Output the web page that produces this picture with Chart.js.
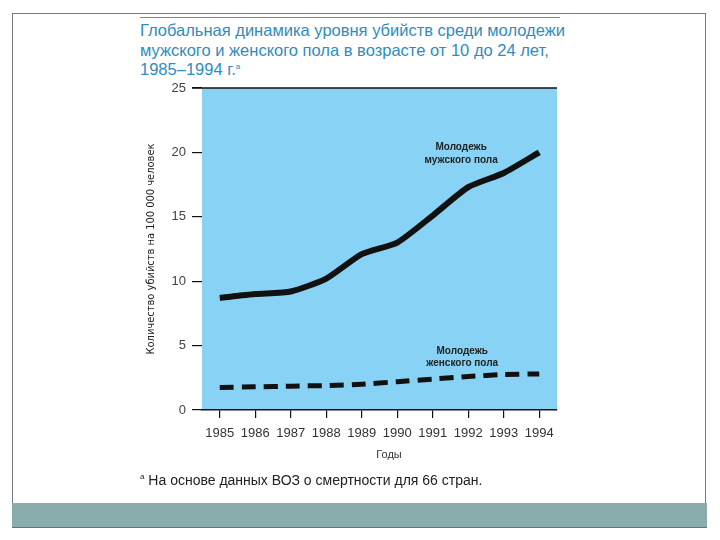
<!DOCTYPE html>
<html>
<head>
<meta charset="utf-8">
<script src="https://cdn.jsdelivr.net/npm/chart.js@4.4.0/dist/chart.umd.min.js"></script>
<style>
    html, body { margin: 0; padding: 0; background: #fff; }
    #page { position: relative; width: 720px; height: 540px; overflow: hidden; font-family: "Liberation Sans", Arial, sans-serif; }
    #frame { position: absolute; left: 12px; top: 13px; width: 694px; height: 514px; border: 1.5px solid #7a7a7a; box-sizing: border-box; }
    #band { position: absolute; left: 12px; top: 503px; width: 695px; height: 25px; background: #8aacac; border-bottom: 1.5px solid #6f6f6f; box-sizing: border-box; }
    #rule { position: absolute; left: 140px; top: 17px; width: 420px; height: 1px; background: #6a8fa3; }
    #title { position: absolute; left: 140px; top: 21px; width: 440px; color: #2f8cc0; font-size: 16.5px; line-height: 19.5px; }
    #title sup, #note sup { font-size: 8px; line-height: 0; vertical-align: 6px; }
    #note { position: absolute; left: 140px; top: 472px; color: #222; font-size: 14px; }
    #wrap { position: absolute; left: 0; top: 0; width: 720px; height: 540px; }
</style>
</head>
<body>
<div id="page">
    <div id="frame"></div>
    <div id="band"></div>
    <div id="rule"></div>
    <div id="title">Глобальная динамика уровня убийств среди молодежи<br>мужского и женского пола в возрасте от 10 до 24 лет,<br>1985–1994 г.<sup>a</sup></div>
    <div id="wrap"><canvas id="chart" width="720" height="540"></canvas></div>
    <div id="note"><sup>a</sup> На основе данных ВОЗ о смертности для 66 стран.</div>
</div>
<script>
// данные
const years = ['1985', '1986', '1987', '1988', '1989', '1990', '1991', '1992', '1993', '1994'];
const maleRates = [8.7, 9.0, 9.2, 10.2, 12.1, 13.0, 15.1, 17.3, 18.4, 20.0];
const femaleRates = [1.75, 1.8, 1.85, 1.9, 2.0, 2.2, 2.4, 2.6, 2.75, 2.8];
const yTicks = [0, 5, 10, 15, 20, 25];

const maleLabel = ['Молодежь', 'мужского пола'];
const femaleLabel = ['Молодежь', 'женского пола'];

// фон области графика, верхняя линия, подписи
const extras = {
    id: 'extras',
    beforeDraw(chart) {
        const { ctx, chartArea: a } = chart;
        ctx.save();
        ctx.fillStyle = '#88d3f5';
        ctx.fillRect(a.left, a.top, a.right - a.left, a.bottom - a.top);
        ctx.strokeStyle = '#111';
        ctx.lineWidth = 1.5;
        ctx.beginPath();
        ctx.moveTo(a.left - 10, a.top);
        ctx.lineTo(a.right, a.top);
        ctx.stroke();
        ctx.restore();
    },
    afterDraw(chart) {
        const { ctx, scales } = chart;
        const x = scales.x, y = scales.y;
        ctx.save();
        ctx.fillStyle = '#222';
        ctx.textAlign = 'center';
        ctx.textBaseline = 'middle';
        ctx.font = 'bold 10px "Liberation Sans", Arial, sans-serif';
        const step = x.getPixelForValue(1) - x.getPixelForValue(0);
        const mx = x.getPixelForValue(6) + step * 0.8;
        ctx.fillText(maleLabel[0], mx, y.getPixelForValue(20.4));
        ctx.fillText(maleLabel[1], mx, y.getPixelForValue(19.4));
        const fx = x.getPixelForValue(6) + step * 0.83;
        ctx.fillText(femaleLabel[0], fx, y.getPixelForValue(4.6));
        ctx.fillText(femaleLabel[1], fx, y.getPixelForValue(3.6));
        ctx.font = '11px "Liberation Sans", Arial, sans-serif';
        ctx.fillStyle = '#333';
        ctx.fillText('Годы', 389, 455);
        ctx.restore();
    }
};

function createChart() {
    const ctx = document.getElementById('chart').getContext('2d');
    new Chart(ctx, {
        type: 'line',
        data: {
            labels: years,
            datasets: [{
                label: 'Молодежь мужского пола',
                data: maleRates,
                borderColor: '#111',
                borderWidth: 6,
                pointRadius: 0,
                tension: 0.2
            }, {
                label: 'Молодежь женского пола',
                data: femaleRates,
                borderColor: '#111',
                borderWidth: 5,
                borderDash: [14, 8],
                pointRadius: 0,
                tension: 0.2
            }]
        },
        options: {
            responsive: false,
            animation: false,
            devicePixelRatio: 1,
            layout: { padding: { left: 140, top: 88, right: 163, bottom: 80 } },
            plugins: {
                legend: { display: false },
                tooltip: { enabled: false }
            },
            scales: {
                x: {
                    offset: true,
                    afterFit(s) { s.height = 50; },
                    grid: { display: true, drawOnChartArea: false, tickLength: 8, color: '#111', lineWidth: 1.2 },
                    border: { display: true, color: '#111', width: 1.5 },
                    ticks: { color: '#333', padding: 8, maxRotation: 0, font: { size: 13, family: '"Liberation Sans", Arial, sans-serif' } }
                },
                y: {
                    min: 0,
                    max: 25,
                    afterFit(s) { s.width = 62; },
                    afterBuildTicks(s) { s.ticks = yTicks.map(v => ({ value: v })); },
                    grid: { display: true, drawOnChartArea: false, tickLength: 10, color: '#111', lineWidth: 1.2 },
                    border: { display: false },
                    title: {
                        display: true,
                        text: 'Количество убийств на 100 000 человек',
                        color: '#222',
                        padding: { top: 5, bottom: 0 },
                        font: { size: 11, family: '"Liberation Sans Narrow", "DejaVu Sans Condensed", sans-serif' }
                    },
                    ticks: { color: '#444', padding: 6, font: { size: 13, family: '"Liberation Sans", Arial, sans-serif' } }
                }
            }
        },
        plugins: [extras]
    });
}

document.addEventListener('DOMContentLoaded', createChart);
</script>
</body>
</html>
